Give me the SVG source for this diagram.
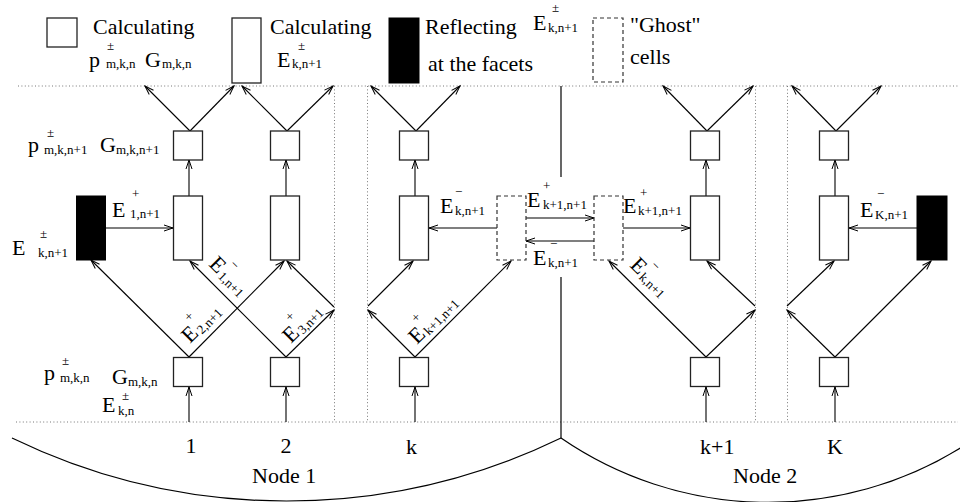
<svg xmlns="http://www.w3.org/2000/svg" width="960" height="502" viewBox="0 0 960 502" font-family="'Liberation Serif', 'Times New Roman', serif">
<defs>
<marker id="ah" markerUnits="userSpaceOnUse" markerWidth="12" markerHeight="8" refX="10" refY="4" orient="auto" overflow="visible">
<path d="M1,1 L10,4 L1,7" fill="none" stroke="#000" stroke-width="1"/>
</marker>
<style>
.box{fill:#fff;stroke:#222;stroke-width:1.3}
.blk{fill:#000;stroke:#000;stroke-width:1}
.ghost{fill:none;stroke:#333;stroke-width:1.2;stroke-dasharray:4 3}
.c{stroke:#000;stroke-width:1.1;fill:none;marker-end:url(#ah)}
.ln{stroke:#000;stroke-width:1.2;fill:none}
.dot{stroke:#777;stroke-width:1;stroke-dasharray:1 2.4;fill:none}
text{font-family:'Liberation Serif','Times New Roman',serif;font-size:22px;fill:#000}
.s{font-size:13px}
</style>
</defs>

<g id="legend">
<g id="legend-square"><rect class="box" x="47" y="18" width="30" height="29"/>
<text x="93" y="34">Calculating</text>
<text x="89" y="67">p</text><text class="s" x="107" y="50">±</text><text class="s" x="106" y="68">m,k,n</text>
<text x="145" y="67">G</text><text class="s" x="162" y="68">m,k,n</text></g>
<g id="legend-tall"><rect class="box" x="232" y="18" width="29" height="65"/>
<text x="270" y="34">Calculating</text>
<text x="277" y="67">E</text><text class="s" x="298" y="50">±</text><text class="s" x="292" y="68">k,n+1</text></g>
<g id="legend-black"><rect class="blk" x="389" y="18" width="30" height="65"/>
<text x="425" y="34">Reflecting</text>
<text x="533" y="30">E</text><text class="s" x="552" y="12">±</text><text class="s" x="548" y="32">k,n+1</text>
<text x="428" y="71">at the facets</text></g>
<g id="legend-ghost"><rect class="ghost" x="593" y="18" width="30" height="64"/>
<text x="630" y="32">"Ghost"</text>
<text x="630" y="64">cells</text></g>
</g>

<g id="frame">
<line class="dot" x1="18" y1="86" x2="958" y2="86"/>
<line class="dot" x1="16" y1="422" x2="958" y2="422"/>
<line class="dot" x1="334.5" y1="86" x2="334.5" y2="422"/>
<line class="dot" x1="367.5" y1="86" x2="367.5" y2="422"/>
<line class="dot" x1="755.5" y1="86" x2="755.5" y2="422"/>
<line class="dot" x1="787.5" y1="86" x2="787.5" y2="422"/>
<line class="ln" x1="561" y1="86" x2="561" y2="177"/>
<line class="ln" x1="561" y1="277" x2="561" y2="438"/>
<path class="ln" d="M12,438 A629.5,629.5 0 0 0 561,438"/>
<path class="ln" d="M561,438 A366,366 0 0 0 962,447"/>
</g>

<g id="connectors">
<path class="c" d="M190,131 L145,86"/><path class="c" d="M190,131 L234,86"/>
<path class="c" d="M287,131 L242,86"/><path class="c" d="M287,131 L333,86"/>
<path class="c" d="M416,131 L371,86"/><path class="c" d="M416,131 L460,86"/>
<path class="c" d="M707,131 L663,86"/><path class="c" d="M707,131 L753,86"/>
<path class="c" d="M836,131 L792,86"/><path class="c" d="M836,131 L881,86"/>

<path class="c" d="M189,196 L189,160"/>
<path class="c" d="M286,196 L286,160"/>
<path class="c" d="M415,196 L415,160"/>
<path class="c" d="M706,196 L706,160"/>
<path class="c" d="M835,196 L835,160"/>

<path class="c" d="M189,422 L189,387"/>
<path class="c" d="M286,422 L286,387"/>
<path class="c" d="M415,422 L415,387"/>
<path class="c" d="M706,422 L706,387"/>
<path class="c" d="M835,422 L835,387"/>

<path class="c" d="M106,228 L173,228"/>
<path class="c" d="M497,228 L429,228"/>
<path class="c" d="M526,218 L594,218"/>
<path class="c" d="M594,241 L526,241"/>
<path class="c" d="M623,228 L690,228"/>
<path class="c" d="M917,228 L849,228"/>

<path class="c" d="M189,357 L91,260"/>
<path class="c" d="M189,357 L284,261"/>
<path class="c" d="M286,357 L190,261"/>
<path class="c" d="M286,357 L334,310"/>
<path class="c" d="M334,307 L287,261"/>
<path class="c" d="M415,357 L368,310"/>
<path class="c" d="M368,306 L413,261"/>
<path class="c" d="M415,357 L511,261"/>
<path class="c" d="M706,357 L609,261"/>
<path class="c" d="M706,357 L755,310"/>
<path class="c" d="M755,306 L707,261"/>
<path class="c" d="M835,357 L787,310"/>
<path class="c" d="M787,306 L834,261"/>
<path class="c" d="M835,357 L931,261"/>
</g>

<g id="col1">
<g id="col1-top"><rect class="box" x="173.5" y="131" width="29" height="29"/></g>
<g id="col1-mid"><rect class="box" x="173.5" y="196" width="29" height="64"/></g>
<g id="col1-bot"><rect class="box" x="173.5" y="357.5" width="29" height="29"/></g>
</g>
<g id="col2">
<g id="col2-top"><rect class="box" x="270.5" y="131" width="29" height="29"/></g>
<g id="col2-mid"><rect class="box" x="270.5" y="196" width="29" height="64"/></g>
<g id="col2-bot"><rect class="box" x="270.5" y="357.5" width="29" height="29"/></g>
</g>
<g id="colk">
<g id="colk-top"><rect class="box" x="399.5" y="131" width="29" height="29"/></g>
<g id="colk-mid"><rect class="box" x="399.5" y="196" width="29" height="64"/></g>
<g id="colk-bot"><rect class="box" x="399.5" y="357.5" width="29" height="29"/></g>
</g>
<g id="colk1">
<g id="colk1-top"><rect class="box" x="690.5" y="131" width="29" height="29"/></g>
<g id="colk1-mid"><rect class="box" x="690.5" y="196" width="29" height="64"/></g>
<g id="colk1-bot"><rect class="box" x="690.5" y="357.5" width="29" height="29"/></g>
</g>
<g id="colK">
<g id="colK-top"><rect class="box" x="819.5" y="131" width="29" height="29"/></g>
<g id="colK-mid"><rect class="box" x="819.5" y="196" width="29" height="64"/></g>
<g id="colK-bot"><rect class="box" x="819.5" y="357.5" width="29" height="29"/></g>
</g>
<g id="facet-left"><rect class="blk" x="76.5" y="196" width="29" height="64"/></g>
<g id="ghost-left"><rect class="ghost" x="497" y="196" width="29" height="64"/></g>
<g id="ghost-right"><rect class="ghost" x="594" y="196" width="29" height="64"/></g>
<g id="facet-right"><rect class="blk" x="917" y="196" width="30" height="64"/></g>

<g id="labels">
<text x="28" y="152">p</text><text class="s" x="47" y="137">±</text><text class="s" x="44" y="154">m,k,n+1</text>
<text x="100" y="152">G</text><text class="s" x="116" y="154">m,k,n+1</text>
<text x="12" y="255">E</text><text class="s" x="40" y="238">±</text><text class="s" x="38" y="257">k,n+1</text>
<text x="112" y="217">E</text><text class="s" x="132" y="198">+</text><text class="s" x="130" y="218">1,n+1</text>
<text x="440" y="213">E</text><text class="s" x="455" y="196">−</text><text class="s" x="455" y="215">k,n+1</text>
<text x="527" y="207">E</text><text class="s" x="543" y="190">+</text><text class="s" x="543" y="209">k+1,n+1</text>
<text x="533" y="265">E</text><text class="s" x="550" y="248">−</text><text class="s" x="548" y="267">k,n+1</text>
<text x="623" y="213">E</text><text class="s" x="640" y="197">+</text><text class="s" x="638" y="215">k+1,n+1</text>
<text x="860" y="217">E</text><text class="s" x="877" y="198">−</text><text class="s" x="875" y="219">K,n+1</text>

<text x="44" y="380">p</text><text class="s" x="62" y="365">±</text><text class="s" x="60" y="382">m,k,n</text>
<text x="112" y="384">G</text><text class="s" x="128" y="386">m,k,n</text>
<text x="102" y="412">E</text><text class="s" x="122" y="400">±</text><text class="s" x="118" y="415">k,n</text>

<g transform="translate(208,265) rotate(45)"><text x="0" y="0">E</text><text class="s" x="15" y="-15">−</text><text class="s" x="15" y="2">1,n+1</text></g>
<g transform="translate(190,344) rotate(-45)"><text x="0" y="0">E</text><text class="s" x="15" y="-16">+</text><text class="s" x="15" y="2">2,n+1</text></g>
<g transform="translate(291,344) rotate(-45)"><text x="0" y="0">E</text><text class="s" x="15" y="-16">+</text><text class="s" x="15" y="2">3,n+1</text></g>
<g transform="translate(417,345) rotate(-45)"><text x="0" y="0">E</text><text class="s" x="15" y="-16">+</text><text class="s" x="15" y="2">k+1,n+1</text></g>
<g transform="translate(629,266) rotate(45)"><text x="0" y="0">E</text><text class="s" x="15" y="-15">−</text><text class="s" x="15" y="2">k,n+1</text></g>

<text x="191" y="453" text-anchor="middle">1</text>
<text x="286" y="453" text-anchor="middle">2</text>
<text x="406" y="454">k</text>
<text x="700" y="454">k+1</text>
<text x="827" y="454">K</text>
<text x="252" y="483">Node 1</text>
<text x="733" y="483">Node 2</text>
</g>
</svg>
